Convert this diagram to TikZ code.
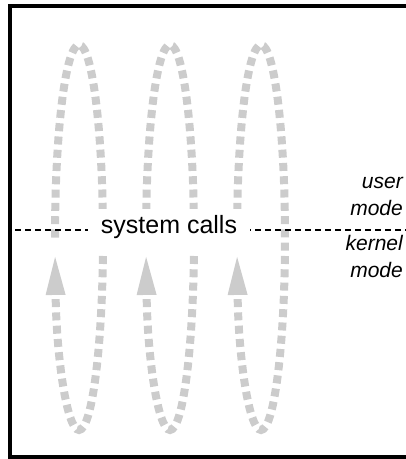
\documentclass[tikz,border=0pt]{standalone}
\usepackage{fontspec}
\setmainfont{Liberation Sans}
\usetikzlibrary{arrows.meta,positioning}
\definecolor{loopgray}{HTML}{CCCCCC}

\begin{document}
\begin{tikzpicture}[
  x=1pt, y=-1pt,
  frame/.style={draw=black, line width=3.5pt},
  trip/.style={draw=loopgray, line width=8pt, dash pattern=on 8pt off 5.3pt,
               -{Triangle[length=38pt, width=20pt, line width=0pt]}},
  modeline/.style={draw=black, line width=2.5pt, dash pattern=on 6pt off 4pt, dash phase=5pt},
  calllbl/.style={fill=white, inner xsep=13pt, inner ysep=6pt, text depth=14pt,
                  font=\fontsize{25}{29}\selectfont},
  modelbl/.style={align=right, inner sep=0pt, font=\fontsize{21}{26.5}\selectfont\itshape},
]
\useasboundingbox (0,0) rectangle (406,459);

% frame, open on the right
\draw[frame] (420,6) -- (10,6) -- (10,457) -- (420,457);

% round trips into the kernel
\foreach \cx in {79,170,261}
  \draw[trip] (\cx-24,237.5) arc[start angle=180, end angle=-174.2,
                                  x radius=24pt, y radius=192.5pt];

% user/kernel boundary
\coordinate (sepL) at (10,230);
\coordinate (sepR) at (406,230);
\draw[modeline] (sepL) -- (sepR);

\node[calllbl, anchor=base] (calls) at (169,233.3) {system calls};

% base anchor sits on the last line
\node[modelbl, anchor=base east] (usr) at (403,215) {user\\mode};
\node[modelbl, anchor=base east] (krn) at (403,277) {kernel\\mode};

\end{tikzpicture}
\end{document}
